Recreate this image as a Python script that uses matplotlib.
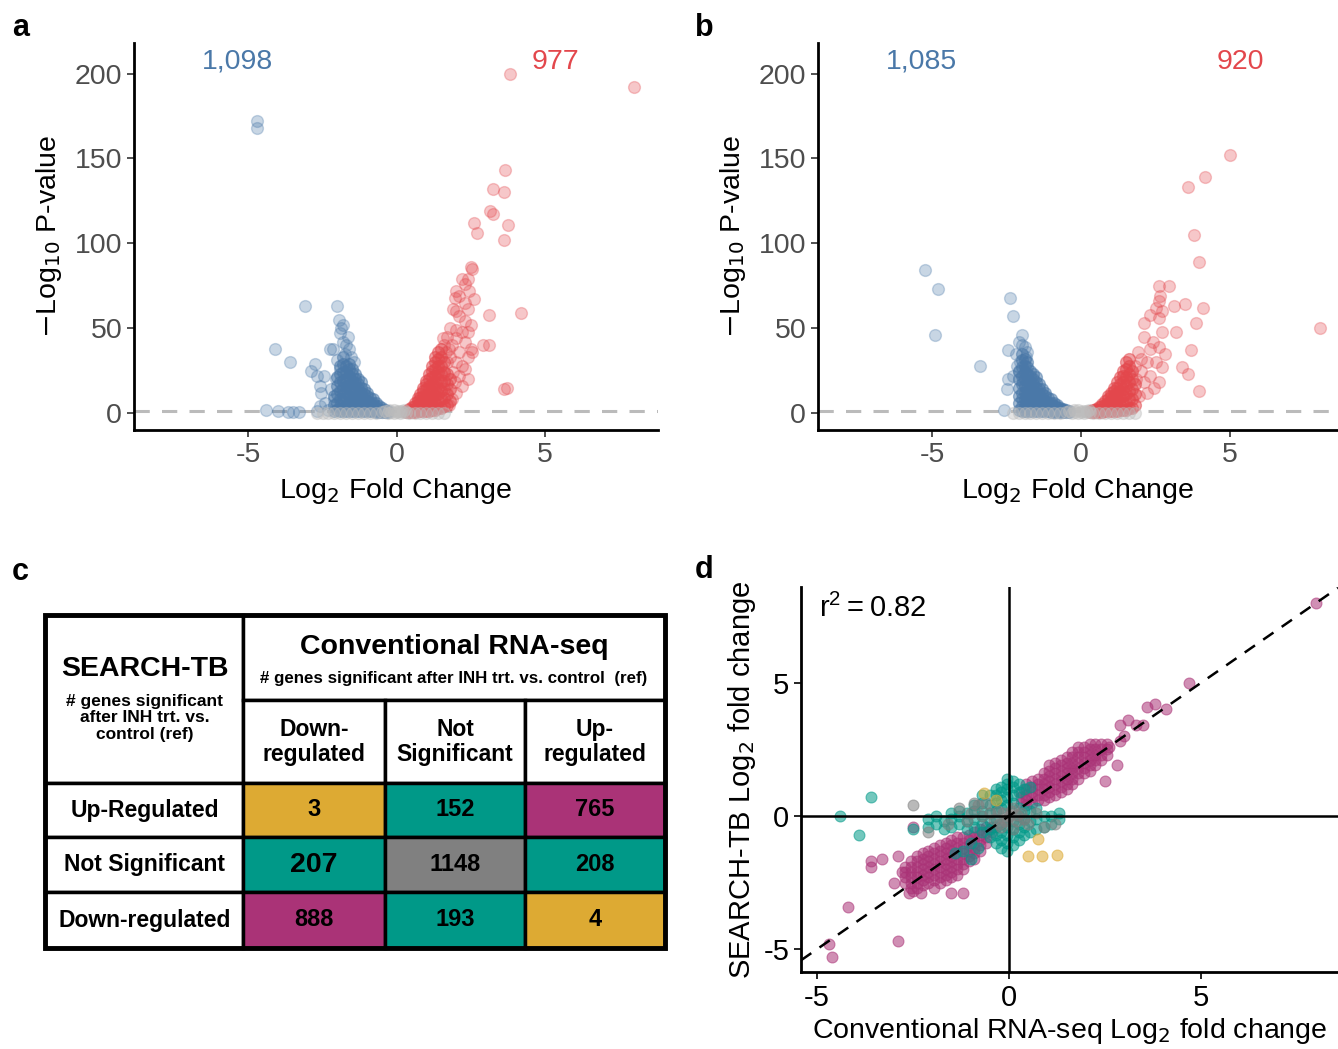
import numpy as np
import matplotlib
matplotlib.use("Agg")
import matplotlib.pyplot as plt
from matplotlib.patches import Rectangle

plt.rcParams['font.family'] = ['Liberation Sans', 'DejaVu Sans']

# ---------------- data: panel a volcano (log2 FC, -log10 p) ----------------
# scattered points read one by one
a_down = [(-4.7, 172), (-4.7, 168), (-4.1, 38), (-3.6, 30), (-3.1, 63), (-2.75, 29), (-2.9, 25),
          (-2.7, 22), (-2.45, 22), (-2.6, 16), (-2.55, 12), (-4.4, 2), (-4.0, 1), (-3.65, 0.5),
          (-3.5, 0.5), (-3.3, 0.5), (-2.0, 63), (-1.95, 55), (-1.82, 52), (-1.88, 50), (-1.92, 47),
          (-2.25, 38), (-2.15, 38), (-1.7, 40), (-1.6, 38), (-1.75, 35), (-1.55, 33), (-1.45, 30),
          (-2.4, 6), (-2.6, 4), (-2.7, 1), (-2.3, 2), (-2.1, 8), (-2.2, 14), (-2.05, 20), (-1.9, 26),
          (-2.0, 31), (-1.8, 42), (-1.65, 45)]
# dense blob: x column -> y values
a_down_cols = {-2.1: [1, 5, 10], -2.0: [2, 6, 11, 16, 21], -1.9: [1, 4, 8, 13, 18, 23, 28],
               -1.8: [1, 3, 7, 11, 15, 19, 24, 29, 33], -1.7: [1, 4, 8, 12, 16, 20, 24, 28],
               -1.6: [1, 3, 6, 10, 14, 18, 22, 26, 29], -1.5: [1, 4, 7, 11, 15, 19, 23, 26],
               -1.4: [1, 3, 6, 9, 13, 17, 20, 23], -1.3: [1, 4, 7, 10, 14, 17, 20],
               -1.2: [1, 3, 6, 9, 12, 15, 18], -1.1: [1, 3, 5, 8, 11, 14], -1.0: [1, 2, 4, 7, 10, 12],
               -0.9: [1, 2, 4, 6, 9], -0.8: [1, 2, 4, 6, 8], -0.7: [0.5, 2, 4, 6], -0.6: [0.5, 2, 4],
               -0.5: [0.5, 2, 3], -0.4: [0.5, 1.5], -0.3: [0.5, 1.2]}
a_up = [(3.8, 200), (8.0, 192), (3.65, 143), (3.25, 132), (3.6, 130), (3.15, 119), (3.25, 117),
        (2.6, 112), (3.75, 111), (2.7, 106), (3.6, 102), (2.5, 86), (2.55, 85), (2.2, 79), (2.4, 79),
        (2.3, 76), (2.0, 72), (2.1, 69), (2.45, 72), (1.95, 68), (2.6, 67), (2.3, 65), (2.4, 61),
        (4.2, 59), (3.1, 58), (1.9, 61), (2.0, 60), (2.1, 57), (2.3, 54), (2.5, 52), (1.8, 50),
        (2.0, 49), (2.2, 48), (2.4, 48), (1.7, 45), (2.0, 44), (2.3, 42), (2.5, 38), (2.55, 36),
        (2.9, 40), (3.1, 40), (3.6, 14), (3.7, 15), (2.0, 30), (2.2, 28), (2.3, 26), (2.1, 22),
        (2.4, 20), (1.95, 18), (2.2, 16), (2.0, 12), (1.85, 8), (1.75, 5), (1.6, 40), (1.55, 44),
        (1.65, 36), (1.8, 33), (1.9, 24), (1.75, 38), (2.1, 36), (2.4, 33), (1.85, 40), (1.7, 30)]
a_up_cols = {0.3: [0.5, 1.2], 0.4: [0.5, 1.5, 2.5], 0.5: [0.5, 2, 3.5], 0.6: [0.5, 2, 4, 6],
             0.7: [1, 3, 5, 7, 9], 0.8: [1, 3, 6, 9, 11], 0.9: [1, 4, 7, 10, 13, 15],
             1.0: [1, 4, 7, 10, 14, 17, 19], 1.1: [1, 4, 8, 12, 16, 20, 23],
             1.2: [2, 5, 9, 13, 17, 21, 25, 28], 1.3: [2, 6, 10, 14, 18, 22, 26, 30, 33],
             1.4: [3, 7, 11, 15, 20, 24, 28, 32, 36], 1.5: [3, 8, 13, 18, 23, 28, 33, 38],
             1.6: [4, 9, 14, 19, 24, 30], 1.7: [5, 11, 17, 23], 1.8: [7, 14, 20]}
a_ns = [(-2.7, 0.2), (-2.5, 0.3), (-2.3, 0.2), (-2.1, 0.3), (-1.9, 0.2), (-1.7, 0.3), (-1.5, 0.2),
        (-1.3, 0.3), (-1.1, 0.2), (-0.9, 0.3), (-0.7, 0.2), (-0.5, 0.4), (-0.4, 1.0), (-0.3, 0.3),
        (-0.25, 1.6), (-0.2, 0.8), (-0.1, 0.2), (-0.1, 1.8), (0.0, 0.6), (0.05, 1.4), (0.1, 0.2),
        (0.15, 1.0), (0.2, 0.4), (0.25, 1.6), (0.3, 0.8), (0.4, 0.3), (0.6, 0.2), (0.8, 0.3),
        (1.0, 0.2), (1.2, 0.3), (1.4, 0.2), (1.6, 0.2)]
a_counts = ['1,098', '977']

# ---------------- data: panel b volcano ----------------
b_down = [(-5.25, 84), (-4.8, 73), (-4.9, 46), (-3.4, 28), (-2.4, 68), (-2.3, 57), (-2.45, 37),
          (-2.5, 14), (-2.45, 20), (-2.6, 2), (-2.0, 46), (-2.1, 42), (-1.9, 39), (-2.2, 35),
          (-1.85, 33), (-2.1, 24), (-2.3, 22), (-1.95, 18), (-2.05, 30), (-2.0, 40), (-1.8, 36),
          (-2.15, 28)]
b_down_cols = {-2.1: [2, 6, 10, 15, 20, 25], -2.0: [1, 4, 8, 12, 17, 22, 27, 31, 35],
               -1.9: [1, 4, 8, 12, 16, 20, 24, 28, 32], -1.8: [1, 3, 7, 11, 15, 19, 23, 27, 30],
               -1.7: [1, 3, 6, 10, 14, 18, 22, 25], -1.6: [1, 3, 6, 9, 13, 17, 20, 23],
               -1.5: [1, 3, 6, 9, 12, 15, 18, 21], -1.4: [1, 3, 5, 8, 11, 14, 17],
               -1.3: [1, 3, 5, 8, 11, 14], -1.2: [1, 2, 4, 7, 10, 12], -1.1: [1, 2, 4, 6, 9],
               -1.0: [0.5, 2, 4, 6, 8], -0.9: [0.5, 2, 4, 6], -0.8: [0.5, 2, 3.5, 5],
               -0.7: [0.5, 1.5, 3], -0.6: [0.5, 1.5, 2.5], -0.5: [0.5, 1.5], -0.4: [0.5, 1]}
b_up = [(5.0, 152), (4.15, 139), (3.6, 133), (3.8, 105), (3.95, 89), (2.6, 75), (2.95, 75),
        (8.0, 50), (2.65, 69), (2.6, 66), (2.5, 62), (2.7, 60), (3.1, 63), (3.5, 64), (4.1, 62),
        (2.3, 58), (2.1, 53), (2.6, 56), (3.2, 48), (3.85, 53), (2.7, 48), (2.1, 45), (2.4, 42),
        (2.6, 39), (2.8, 35), (3.7, 37), (3.4, 27), (3.6, 23), (3.95, 13), (2.3, 22), (2.45, 15),
        (2.0, 32), (2.2, 30), (1.9, 36), (2.3, 38), (2.5, 30), (2.7, 27), (2.6, 18), (2.1, 18),
        (2.0, 25), (1.8, 28), (1.85, 20), (2.2, 12), (1.95, 10)]
b_up_cols = {0.3: [0.5, 1], 0.4: [0.5, 1.5], 0.5: [0.5, 1.5, 2.5], 0.6: [0.5, 2, 3.5],
             0.7: [0.5, 2, 4, 5.5], 0.8: [1, 3, 5, 7], 0.9: [1, 3, 6, 8, 10],
             1.0: [1, 4, 7, 10, 12], 1.1: [1, 4, 7, 10, 13, 15], 1.2: [1, 4, 8, 12, 15, 18],
             1.3: [2, 5, 9, 13, 17, 21], 1.4: [2, 6, 10, 14, 18, 22, 25],
             1.5: [2, 6, 11, 16, 21, 26, 30], 1.6: [3, 8, 13, 18, 23, 28, 32],
             1.7: [3, 8, 14, 20, 25], 1.8: [5, 11, 17]}
b_ns = [(-2.3, 0.2), (-2.1, 0.3), (-1.9, 0.2), (-1.7, 0.3), (-1.5, 0.2), (-1.3, 0.3), (-1.1, 0.2),
        (-0.9, 0.3), (-0.7, 0.2), (-0.5, 0.4), (-0.4, 1.0), (-0.3, 0.3), (-0.25, 1.6),
        (-0.2, 0.8), (-0.1, 0.2), (-0.1, 1.8), (0.0, 0.6), (0.05, 1.4), (0.1, 0.2), (0.15, 1.0),
        (0.2, 0.4), (0.25, 1.6), (0.3, 0.8), (0.4, 0.3), (0.6, 0.2), (0.8, 0.3), (1.0, 0.2),
        (1.2, 0.3), (1.4, 0.2), (1.6, 0.2), (1.8, 0.2)]
b_counts = ['1,085', '920']

# ---------------- data: panel c table ----------------
row_labels = ['Up-Regulated', 'Not Significant', 'Down-regulated']
col_labels = ['Down-\nregulated', 'Not\nSignificant', 'Up-\nregulated']
counts = [[3, 152, 765],
          [207, 1148, 208],
          [888, 193, 4]]
agreement = [['opp', 'one', 'both'],
             ['one', 'ns', 'one'],
             ['both', 'one', 'opp']]

# ---------------- data: panel d (conventional LFC, SEARCH-TB LFC) ----------------
d_both = [(8.0, 8.0), (4.7, 5.0), (4.1, 4.0), (3.8, 4.2), (3.6, 4.1), (3.1, 3.6), (3.3, 3.4),
          (3.5, 3.4), (2.9, 2.8), (2.6, 2.6), (2.5, 1.3), (2.8, 1.9), (3.0, 3.0), (2.9, 3.4),
          (-4.6, -5.3), (-4.7, -4.8), (-2.9, -4.7), (-4.2, -3.4), (-3.3, -1.6), (-3.6, -1.7),
          (-3.6, -1.9), (-2.8, -2.1), (-3.0, -2.5), (-2.5, -2.8), (-2.5, -0.4), (-2.3, -2.9),
          (-1.2, -2.9), (-1.5, -2.9), (-2.9, -1.5), (-2.6, -2.9)]
d_both_cols = {-2.7: [-1.9, -2.1, -2.3, -2.5],
               -2.55: [-1.7, -1.9, -2.1, -2.3, -2.5, -2.7],
               -2.4: [-1.5, -1.7, -1.9, -2.1, -2.3, -2.5, -2.7],
               -2.25: [-1.4, -1.6, -1.8, -2.0, -2.2, -2.4, -2.6],
               -2.1: [-1.3, -1.5, -1.7, -1.9, -2.1, -2.3, -2.5],
               -1.95: [-1.2, -1.4, -1.6, -1.8, -2.0, -2.2, -2.4, -2.7],
               -1.8: [-1.1, -1.3, -1.5, -1.7, -1.9, -2.1, -2.3, -2.5],
               -1.65: [-1.0, -1.2, -1.4, -1.6, -1.8, -2.0, -2.2, -2.4],
               -1.5: [-0.9, -1.1, -1.3, -1.5, -1.7, -1.9, -2.1, -2.3],
               -1.35: [-0.8, -1.0, -1.2, -1.4, -1.6, -1.8, -2.0, -2.2],
               -1.2: [-0.8, -1.0, -1.2, -1.4, -1.6, -1.8, -2.0],
               -1.05: [-0.7, -0.9, -1.1, -1.3, -1.5, -1.7],
               -0.9: [-0.6, -0.8, -1.0, -1.2, -1.4, -1.6],
               -0.75: [-0.5, -0.7, -0.9, -1.1, -1.3],
               -0.6: [-0.4, -0.6, -0.8, -1.0], -0.45: [-0.4, -0.6],
               0.3: [0.5, 0.7, 0.9], 0.45: [0.4, 0.6, 0.8, 1.0, 1.2],
               0.6: [0.5, 0.7, 0.9, 1.1, 1.3], 0.75: [0.6, 0.8, 1.0, 1.2, 1.4],
               0.9: [0.6, 0.8, 1.0, 1.2, 1.4, 1.6], 1.05: [0.7, 0.9, 1.1, 1.3, 1.5, 1.7, 1.9],
               1.2: [0.8, 1.0, 1.2, 1.4, 1.6, 1.8, 2.0], 1.35: [0.9, 1.1, 1.3, 1.5, 1.7, 1.9, 2.1],
               1.5: [1.0, 1.2, 1.4, 1.6, 1.8, 2.0, 2.2], 1.65: [1.2, 1.4, 1.6, 1.8, 2.0, 2.2, 2.4],
               1.8: [1.4, 1.6, 1.8, 2.0, 2.2, 2.4, 2.6], 1.95: [1.6, 1.8, 2.0, 2.2, 2.4, 2.6],
               2.1: [1.7, 1.9, 2.1, 2.3, 2.5, 2.7], 2.25: [1.9, 2.1, 2.3, 2.5, 2.7],
               2.4: [2.1, 2.3, 2.5, 2.7], 2.55: [2.3, 2.5, 2.7]}
d_one = [(-3.6, 0.7), (-4.4, 0.0), (-3.9, -0.7), (-2.5, -0.5), (-1.4, -1.4), (-1.0, -1.0),
         (-0.8, -1.2), (-1.0, -1.6), (-1.2, -1.3)]
d_one_cols = {-2.1: [-0.4, -0.1], -1.9: [-0.3, 0.0], -1.7: [-0.5, -0.2], -1.5: [-0.4, -0.1, 0.1],
              -1.3: [-0.3, 0.0, 0.2], -1.1: [-0.5, -0.2, 0.1], -0.9: [-0.4, -0.1, 0.2, 0.4],
              -0.7: [-0.6, -0.3, 0.0, 0.2, 0.5, 0.8], -0.5: [-0.8, -0.5, -0.2, 0.1, 0.4, 0.8],
              -0.35: [-1.0, -0.7, -0.4, -0.1, 0.2, 0.5, 0.8, 1.0],
              -0.2: [-1.2, -0.9, -0.6, -0.3, 0.3, 0.6, 0.9, 1.1],
              -0.05: [-1.3, -1.0, -0.7, -0.4, 0.4, 0.7, 1.0, 1.2, 1.4],
              0.1: [-1.1, -0.8, -0.5, -0.2, 0.5, 0.8, 1.1, 1.3],
              0.25: [-0.9, -0.6, -0.3, 0.0, 0.3, 0.9, 1.2], 0.4: [-0.7, -0.4, -0.1, 0.2, 1.0],
              0.55: [-0.6, -0.2, 0.2, 1.1], 0.7: [-0.5, -0.1, 0.3], 0.9: [-0.4, 0.0],
              1.1: [-0.3, 0.0], 1.3: [-0.1, 0.1]}
d_ns = [(-2.5, 0.4), (-2.1, -0.6), (-1.3, 0.3), (-1.0, 0.1), (-0.8, 0.4), (-0.6, 0.5), (-0.5, 0.1),
        (-0.3, 0.2), (-0.2, -0.4), (-0.1, -0.2), (0.0, 0.0), (0.1, 0.3), (0.1, -0.5), (0.2, -0.2),
        (0.3, 0.1), (0.5, -0.3), (0.7, 0.1), (0.9, -0.4), (1.2, -0.3), (-1.6, -0.3), (-0.4, -0.1),
        (-0.15, 0.1), (0.05, 0.2), (-0.05, -0.1), (-0.25, -0.3), (0.2, 0.05), (-0.7, 0.0),
        (-1.1, -0.2), (0.4, -0.1), (-0.9, 0.5)]
d_opp = [(-0.65, 0.85), (-0.35, 0.6), (0.75, -0.85), (0.5, -1.5), (0.85, -1.5), (1.25, -1.45)]
r2 = 0.82

# ---------------- style ----------------
BLUE, RED, LGRAY = '#4A78A8', '#E3474C', '#BDBDBD'
cat_colors = {'both': '#AA3377', 'one': '#009988', 'ns': '#808080', 'opp': '#DDAA33'}
W, H = 1338, 1049


def cols_to_array(cols):
    return np.array([(x, y) for x, ys in cols.items() for y in ys], dtype=float)


def px_axes(fig, left, top, right, bottom):
    return fig.add_axes([left / W, 1 - bottom / H, (right - left) / W, (bottom - top) / H])


fig = plt.figure(figsize=(W / 100, H / 100), dpi=100)


def volcano(ax, down, down_cols, up, up_cols, ns, labels, xlim):
    layers = ((cols_to_array(down_cols), BLUE, 0.5), (np.array(down), BLUE, 0.3),
              (cols_to_array(up_cols), RED, 0.5), (np.array(up), RED, 0.3),
              (np.array(ns), LGRAY, 0.4))
    for p, c, a in layers:
        ax.scatter(p[:, 0], p[:, 1], s=72, color=c, alpha=a, edgecolors=c, linewidths=1, zorder=3)
    ax.axhline(-np.log10(0.05), color='#BBBBBB', lw=2.2, ls=(0, (5, 4)), zorder=2)
    ax.set_xlim(*xlim)
    ax.set_ylim(-10, 218)
    ax.set_xticks([-5, 0, 5])
    ax.set_xticklabels(['-5', '0', '5'])
    ax.set_yticks([0, 50, 100, 150, 200])
    for s in ('top', 'right'):
        ax.spines[s].set_visible(False)
    for s in ('left', 'bottom'):
        ax.spines[s].set_linewidth(2)
    ax.tick_params(labelsize=20.5, colors='#333333', labelcolor='#4D4D4D', length=5, width=1.2)
    ax.set_xlabel('Log$_2$ Fold Change', fontsize=20.5, labelpad=6)
    ax.set_ylabel('$-$Log$_{10}$ P-value', fontsize=20.5, labelpad=8)
    ax.text(-5.35, 207, labels[0], color=BLUE, fontsize=20.5, ha='center', va='center')
    ax.text(5.35, 207, labels[1], color=RED, fontsize=20.5, ha='center', va='center')


ax_a = px_axes(fig, 134, 43, 658, 430)
volcano(ax_a, a_down, a_down_cols, a_up, a_up_cols, a_ns, a_counts, (-8.85, 8.8))
ax_b = px_axes(fig, 818, 43, 1338, 430)
volcano(ax_b, b_down, b_down_cols, b_up, b_up_cols, b_ns, b_counts, (-8.83, 8.62))

# ---------------- panel c table ----------------
ax_c = px_axes(fig, 40, 610, 670, 953)
ax_c.set_xlim(40, 670)
ax_c.set_ylim(953, 610)
ax_c.axis('off')
xe = [45, 243, 385, 525, 665]
ye = [615, 700, 783, 837, 892, 948]


def tx(x, y, s, size, **kw):
    ax_c.text(x, y, s, fontsize=size, fontweight='bold', ha='center', va='center', **kw)


def cell(x0, x1, y0, y1, fc='white'):
    ax_c.add_patch(Rectangle((x0, y0), x1 - x0, y1 - y0, facecolor=fc, edgecolor='black', lw=2.5))


cell(xe[0], xe[1], ye[0], ye[2])
cell(xe[1], xe[4], ye[0], ye[1])
for j in range(3):
    cell(xe[j + 1], xe[j + 2], ye[1], ye[2])
for i in range(3):
    cell(xe[0], xe[1], ye[i + 2], ye[i + 3])
    for j in range(3):
        cell(xe[j + 1], xe[j + 2], ye[i + 2], ye[i + 3], cat_colors[agreement[i][j]])
ax_c.add_patch(Rectangle((xe[0], ye[0]), xe[-1] - xe[0], ye[-1] - ye[0], fill=False,
                         edgecolor='black', lw=3.5, zorder=5))

tx(145, 669, 'SEARCH-TB', 20.5)
tx(145, 718, '# genes significant\nafter INH trt. vs.\ncontrol (ref)', 12.5, linespacing=1.15)
tx(454, 647, 'Conventional RNA-seq', 20.5)
tx(454, 679, '# genes significant after INH trt. vs. control  (ref)', 12.2)
for j, lab in enumerate(col_labels):
    tx((xe[j + 1] + xe[j + 2]) / 2, 742, lab, 16.5, linespacing=1.15)
for i, lab in enumerate(row_labels):
    yc = (ye[i + 2] + ye[i + 3]) / 2
    tx(145, yc, lab, 16.5)
    for j in range(3):
        v = counts[i][j]
        tx((xe[j + 1] + xe[j + 2]) / 2, yc, str(v), 20.5 if v == 207 else 17)

# ---------------- panel d ----------------
ax_d = px_axes(fig, 801, 587, 1338, 972)
d_layers = ((cols_to_array(d_both_cols), 'both'), (np.array(d_both), 'both'),
            (cols_to_array(d_one_cols), 'one'), (np.array(d_one), 'one'),
            (np.array(d_ns), 'ns'), (np.array(d_opp), 'opp'))
for p, key in d_layers:
    ax_d.scatter(p[:, 0], p[:, 1], s=62, color=cat_colors[key], alpha=0.55,
                 edgecolors=cat_colors[key], linewidths=0.8, zorder=3)
ax_d.axhline(0, color='black', lw=1.8, zorder=4)
ax_d.axvline(0, color='black', lw=1.8, zorder=4)
ax_d.axline((0, 0), slope=1, color='black', lw=1.8, ls=(0, (5, 4)), zorder=5)
ax_d.set_xlim(-5.42, 8.57)
ax_d.set_ylim(-5.86, 8.6)
ax_d.set_xticks([-5, 0, 5])
ax_d.set_xticklabels(['-5', '0', '5'])
ax_d.set_yticks([-5, 0, 5])
ax_d.set_yticklabels(['-5', '0', '5'])
for s in ('top', 'right'):
    ax_d.spines[s].set_visible(False)
for s in ('left', 'bottom'):
    ax_d.spines[s].set_linewidth(2)
ax_d.tick_params(labelsize=21, colors='black', length=5, width=1.2)
ax_d.set_xlabel('Conventional RNA-seq Log$_2$ fold change', fontsize=20.5, labelpad=3)
ax_d.set_ylabel('SEARCH-TB Log$_2$ fold change', fontsize=21, labelpad=4)
ax_d.text(-4.95, 7.8, '$\\mathregular{r^2=}$' + f'{r2:.2f}', fontsize=21, ha='left', va='center')

# panel letters
for lab, x, y in (('a', 12, 28), ('b', 695, 28), ('c', 12, 572), ('d', 695, 570)):
    fig.text(x / W, 1 - y / H, lab, fontsize=22, fontweight='bold', ha='left', va='center')

fig.savefig('out.png', dpi=100)
